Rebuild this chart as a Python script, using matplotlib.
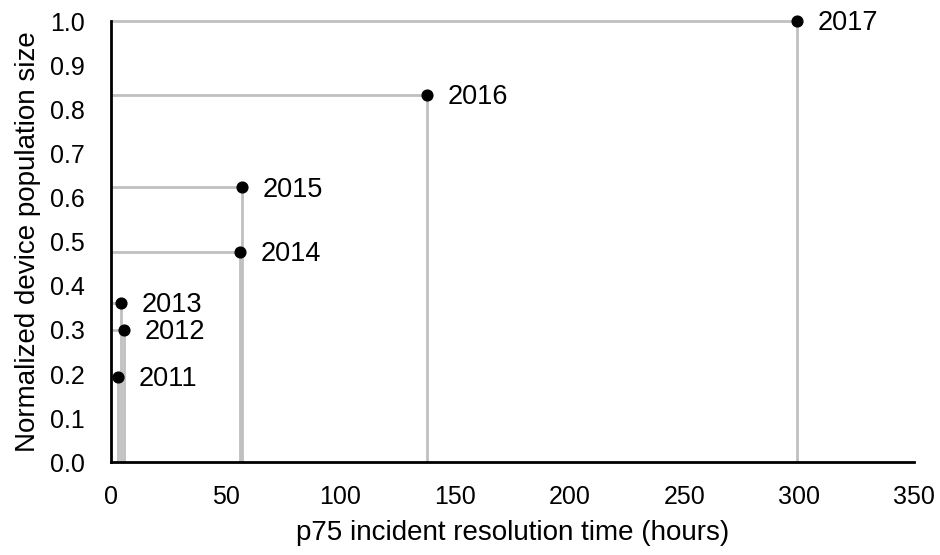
import matplotlib
matplotlib.use("Agg")
import matplotlib.pyplot as plt

# p75 resolution time vs normalized fleet size, one point per year
years = ["2011", "2012", "2013", "2014", "2015", "2016", "2017"]
resolution_hours = [3.2, 5.7, 4.4, 56.2, 57.0, 137.7, 299.0]
population = [0.193, 0.299, 0.362, 0.477, 0.623, 0.832, 1.0]

plt.rcParams["font.family"] = ["Liberation Sans", "DejaVu Sans"]

fig, ax = plt.subplots(figsize=(9.4, 5.55), dpi=100)
fig.subplots_adjust(left=0.118, right=0.972, top=0.962, bottom=0.167)

grey = "#c0c0c0"
for x, y, yr in zip(resolution_hours, population, years):
    ax.plot([x, x], [0, y], color=grey, lw=2, zorder=1, solid_capstyle="butt")
    ax.plot([0, x], [y, y], color=grey, lw=2, zorder=1, solid_capstyle="butt",
            clip_on=False)
    ax.annotate(yr, (x, y), xytext=(15, -1.5), textcoords="offset points",
                va="center", ha="left", fontsize=19.5)

ax.scatter(resolution_hours, population, s=60, color="black", zorder=3,
           clip_on=False)

ax.set_xlim(0, 350)
ax.set_ylim(0, 1.0)
ax.set_xticks(range(0, 351, 50))
ax.set_yticks([i / 10 for i in range(11)])
ax.set_yticklabels([f"{i / 10:.1f}" for i in range(11)])
ax.tick_params(length=0, labelsize=18)
ax.tick_params(axis="x", pad=16)
ax.tick_params(axis="y", pad=19)

for side in ("top", "right"):
    ax.spines[side].set_visible(False)
for side in ("left", "bottom"):
    ax.spines[side].set_linewidth(2)
    ax.spines[side].set_zorder(4)

ax.set_xlabel("p75 incident resolution time (hours)", fontsize=20, labelpad=8)
ax.set_ylabel("Normalized device population size", fontsize=20, labelpad=6)

fig.savefig("out.png")
